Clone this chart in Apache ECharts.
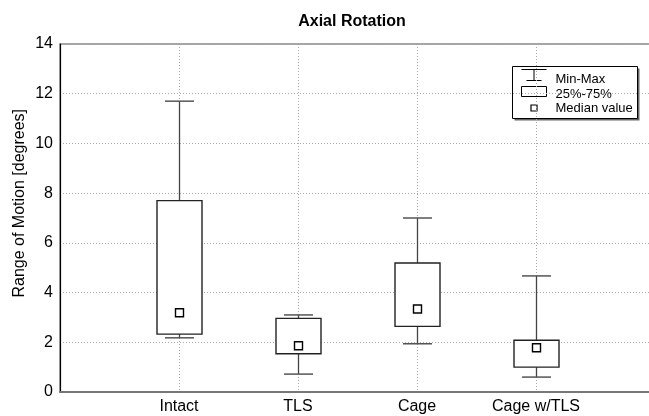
<!DOCTYPE html>
<html>
<head>
<meta charset="utf-8">
<script src="https://cdn.jsdelivr.net/npm/echarts@6/dist/echarts.min.js"></script>
<style>html,body{margin:0;padding:0;background:#fff;}#c{width:649px;height:416px;}</style>
</head>
<body>
<div id="c"></div>
<script>
const categories = ['', 'Intact', 'TLS', 'Cage', 'Cage w/TLS', ''];
const mins    = [2.18, 0.72, 1.94, 0.60];
const q1s     = [2.33, 1.54, 2.64, 1.00];
const medians = [3.19, 1.86, 3.34, 1.78];
const q3s     = [7.70, 2.96, 5.19, 2.08];
const maxs    = [11.70, 3.10, 7.00, 4.67];
const yTicks = [0, 2, 4, 6, 8, 10, 12, 14];

const data = mins.map((m, i) => [i + 1, m, q1s[i], medians[i], q3s[i], maxs[i]]);
const font = '"Liberation Sans", Arial, sans-serif';

const chart = echarts.init(document.getElementById('c'), null, {renderer: 'canvas'});
chart.setOption({
  animation: false,
  backgroundColor: '#fff',
  title: {
    text: 'Axial Rotation', left: 347, top: 9, textAlign: 'center',
    textStyle: {fontFamily: font, fontWeight: 'bold', fontSize: 16, color: '#000'}
  },
  grid: {left: 60, width: 595, top: 44, height: 348, outerBoundsMode: 'none', containLabel: false,
    show: true, borderColor: '#888', borderWidth: 1.5, backgroundColor: 'transparent'},
  xAxis: {
    type: 'category', data: categories, boundaryGap: false,
    axisLine: {lineStyle: {color: '#777', width: 2}},
    axisTick: {show: false},
    axisLabel: {fontFamily: font, fontSize: 16, color: '#000', margin: 7, interval: 0},
    splitLine: {show: true, lineStyle: {color: '#aaa', type: [1, 2], width: 1}}
  },
  yAxis: {
    type: 'value', min: 0, max: 14, interval: 2,
    axisLine: {show: true, lineStyle: {color: '#000', width: 1.2}},
    axisTick: {show: false},
    axisLabel: {fontFamily: font, fontSize: 16, color: '#000', margin: 7,
      formatter: v => yTicks.includes(v) ? String(v) : ''},
    splitLine: {show: true, lineStyle: {color: '#aaa', type: [1, 2], width: 1}}
  },
  graphic: [
    {type: 'text', left: 12, top: 109, rotation: Math.PI / 2, originX: 0, originY: 0,
      style: {text: 'Range of Motion [degrees]', font: '16px ' + font, fill: '#000'}, z: 10},
    {type: 'group', left: 512, top: 66, z: 20, children: [
      {type: 'rect', shape: {x: 2, y: 2, width: 125, height: 52}, style: {fill: '#666'}},
      {type: 'rect', shape: {x: 0, y: 0, width: 125, height: 52}, style: {fill: '#fff', stroke: '#000', lineWidth: 1}},
      {type: 'line', shape: {x1: 9, y1: 3, x2: 34, y2: 3}, style: {stroke: '#000', lineWidth: 1}},
      {type: 'line', shape: {x1: 21.5, y1: 3, x2: 21.5, y2: 14}, style: {stroke: '#000', lineWidth: 1}},
      {type: 'line', shape: {x1: 14, y1: 14, x2: 29, y2: 14}, style: {stroke: '#000', lineWidth: 1}},
      {type: 'rect', shape: {x: 9, y: 20, width: 25, height: 10}, style: {fill: '#fff', stroke: '#000', lineWidth: 1}},
      {type: 'rect', shape: {x: 18.5, y: 38.5, width: 6, height: 6}, style: {fill: '#fff', stroke: '#000', lineWidth: 1.2}},
      {type: 'text', x: 43, y: 13, style: {text: 'Min-Max', font: '13px ' + font, fill: '#000', textVerticalAlign: 'middle'}},
      {type: 'text', x: 43, y: 28, style: {text: '25%-75%', font: '13px ' + font, fill: '#000', textVerticalAlign: 'middle'}},
      {type: 'text', x: 43, y: 42, style: {text: 'Median value', font: '13px ' + font, fill: '#000', textVerticalAlign: 'middle'}}
    ]}
  ],
  series: [{
    type: 'custom',
    data: data,
    encode: {x: 0, y: [1, 2, 3, 4, 5]},
    renderItem: function (params, api) {
      const x = api.value(0);
      const pMin = api.coord([x, api.value(1)]);
      const pQ1 = api.coord([x, api.value(2)]);
      const pMed = api.coord([x, api.value(3)]);
      const pQ3 = api.coord([x, api.value(4)]);
      const pMax = api.coord([x, api.value(5)]);
      const cx = Math.round(pMed[0]) + 0.5;
      const hb = 22.5, hc = 14.5, hm = 4;
      const lineStyle = {stroke: '#444', lineWidth: 1.3};
      return {
        type: 'group',
        children: [
          {type: 'line', shape: {x1: cx, y1: pMax[1], x2: cx, y2: pQ3[1]}, style: lineStyle},
          {type: 'line', shape: {x1: cx, y1: pQ1[1], x2: cx, y2: pMin[1]}, style: lineStyle},
          {type: 'line', shape: {x1: cx - hc, y1: pMax[1], x2: cx + hc, y2: pMax[1]}, style: {stroke: '#555', lineWidth: 1.5}},
          {type: 'line', shape: {x1: cx - hc, y1: pMin[1], x2: cx + hc, y2: pMin[1]}, style: {stroke: '#555', lineWidth: 1.5}},
          {type: 'rect', shape: {x: cx - hb, y: pQ3[1], width: 2 * hb, height: pQ1[1] - pQ3[1]},
            style: {fill: '#fff', stroke: '#222', lineWidth: 1.4}},
          {type: 'rect', shape: {x: cx - hm, y: pMed[1] - hm, width: 2 * hm, height: 2 * hm},
            style: {fill: '#fff', stroke: '#000', lineWidth: 1.4}}
        ]
      };
    }
  }]
});
</script>
</body>
</html>
